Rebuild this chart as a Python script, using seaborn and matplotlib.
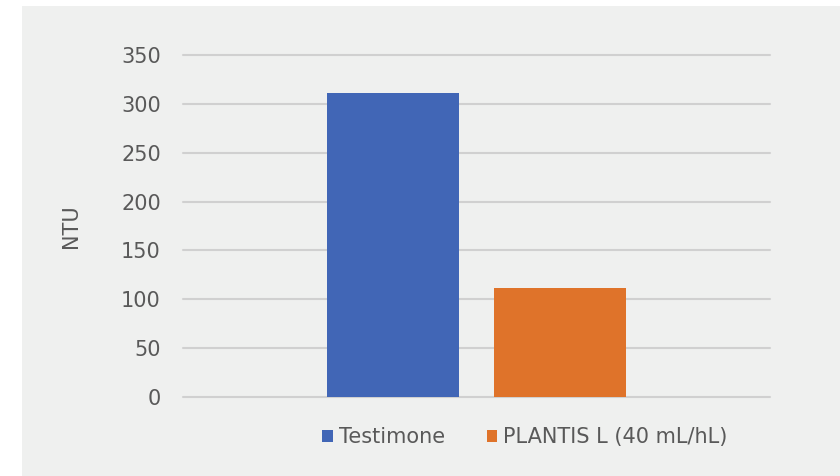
import matplotlib
matplotlib.use("Agg")
import matplotlib.pyplot as plt
import seaborn as sns
import pandas as pd
from matplotlib.patches import Rectangle

# data
categories = ["Campione"]
series = ["Testimone", "PLANTIS L (40 mL/hL)"]
values = [311, 112]
colors = ["#4166b6", "#df732a"]
yticks = [0, 50, 100, 150, 200, 250, 300, 350]

sns.set_style("white")
plt.rcParams["font.family"] = ["DejaVu Sans"]

text_col = "#595959"
bg_col = "#eff0ef"

df = pd.DataFrame({
    "cat": categories * len(series),
    "serie": series,
    "NTU": values,
})

fig = plt.figure(figsize=(8.4, 4.76), dpi=100)
fig.patch.set_facecolor("white")
# grey panel, leaving a thin white margin top/left like the source image
fig.patches.append(Rectangle((22 / 840, 0), 1 - 22 / 840, 1 - 6 / 476,
                             transform=fig.transFigure, facecolor=bg_col,
                             edgecolor="none", zorder=-10))

ax = fig.add_axes([183 / 840, 79 / 476, 587 / 840, 342 / 476])
ax.set_facecolor("none")

sns.barplot(data=df, x="cat", y="NTU", hue="serie", hue_order=series,
            palette=colors, width=0.569, gap=0.21, saturation=1,
            edgecolor="none", ax=ax, zorder=3)

ax.set_xlim(-0.5, 0.5)
ax.set_ylim(0, 350)
ax.set_yticks(yticks)
ax.set_yticklabels([str(t) for t in yticks], fontsize=15, color=text_col)
ax.tick_params(axis="y", length=0, pad=16)
ax.set_xticks([])
ax.set_xlabel("")
ax.set_ylabel("NTU", fontsize=15, color=text_col, labelpad=29)

ax.grid(axis="y", color="#d0d0d0", linewidth=1.5, zorder=0)
for gl in ax.get_ygridlines():
    gl.set_clip_on(False)
ax.set_axisbelow(True)
for s in ax.spines.values():
    s.set_visible(False)

leg = ax.legend(loc="center", bbox_to_anchor=((525 - 183) / 587, -0.117), ncol=2,
                frameon=False, fontsize=15, handlelength=0.5, handleheight=0.5,
                handletextpad=0.29, columnspacing=2.0)
for t in leg.get_texts():
    t.set_color(text_col)

fig.savefig("out.png", dpi=100, facecolor=fig.get_facecolor())
